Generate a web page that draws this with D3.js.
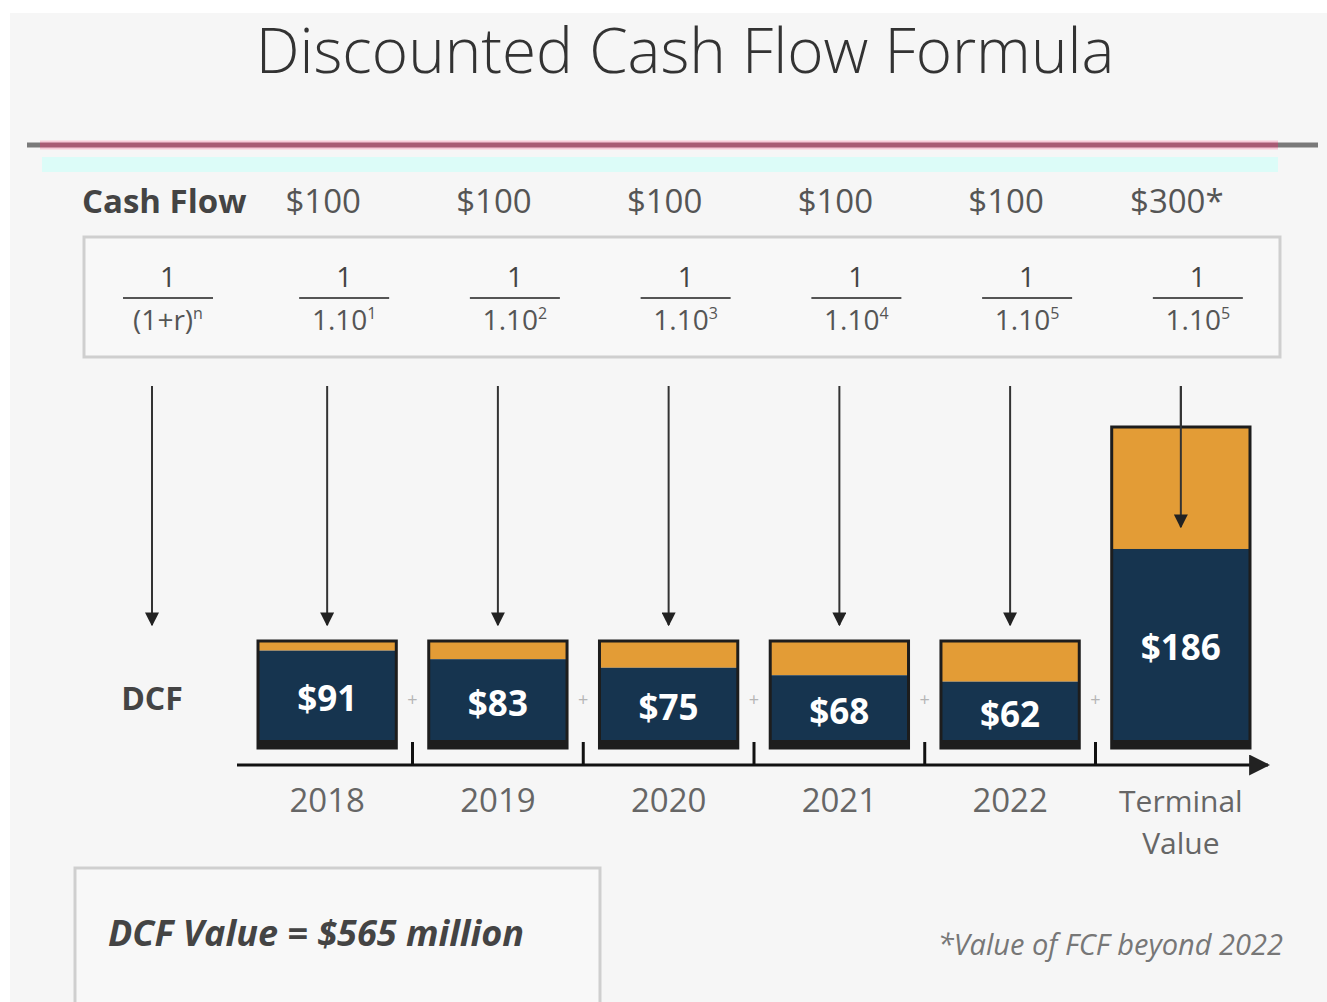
<!DOCTYPE html>
<html>
<head>
<meta charset="utf-8">
<script src="https://cdn.jsdelivr.net/npm/d3@7"></script>
<style>
  body { margin: 0; background: #fff; }
  svg { display: block; font-family: 'Open Sans', sans-serif; }
</style>
</head>
<body>
<div id="chart"></div>
<script>
const categories = ['2018', '2019', '2020', '2021', '2022', 'Terminal Value'];
const cashFlows = [100, 100, 100, 100, 100, 300];
const presentValues = [91, 83, 75, 68, 62, 186];
const cashFlowLabels = ['$100', '$100', '$100', '$100', '$100', '$300*'];
const exponents = ['1', '2', '3', '4', '5', '5'];

const width = 1327;
const height = 1002;
const navy = '#16344f';
const orange = '#e39c36';

const svg = d3.select('#chart')
    .append('svg')
    .attr('width', width)
    .attr('height', height);

const defs = svg.append('defs');
defs.append('marker')
    .attr('id', 'head')
    .attr('viewBox', '0 0 10 10')
    .attr('refX', 9)
    .attr('refY', 5)
    .attr('markerWidth', 7)
    .attr('markerHeight', 7)
    .attr('markerUnits', 'strokeWidth')
    .attr('orient', 'auto')
    .append('path')
    .attr('d', 'M0,0 L10,5 L0,10 Z')
    .attr('fill', '#222');

// panel
svg.append('rect')
    .attr('x', 10).attr('y', 13)
    .attr('width', width - 10).attr('height', height - 13)
    .attr('fill', '#f6f6f6');

svg.append('text')
    .attr('x', 685).attr('y', 73)
    .attr('text-anchor', 'middle')
    .attr('font-size', 62)
    .attr('font-weight', 300)
    .attr('fill', '#333')
    .text('Discounted Cash Flow Formula');

// rule under the title
svg.append('line')
    .attr('x1', 27).attr('x2', 1318).attr('y1', 145).attr('y2', 145)
    .attr('stroke', '#7a7a7a').attr('stroke-width', 5);
svg.append('line')
    .attr('x1', 40).attr('x2', 1278).attr('y1', 145).attr('y2', 145)
    .attr('stroke', '#f7c9d8').attr('stroke-width', 9);
svg.append('line')
    .attr('x1', 40).attr('x2', 1278).attr('y1', 145).attr('y2', 145)
    .attr('stroke', '#a85a74').attr('stroke-width', 5);
svg.append('rect')
    .attr('x', 42).attr('y', 157).attr('width', 1236).attr('height', 15)
    .attr('fill', '#dcfcf8');

const x = d3.scaleBand()
    .domain(categories)
    .range([258, 1250])
    .paddingInner(0.19)
    .paddingOuter(0);

const y = d3.scaleLinear()
    .domain([0, 300])
    .range([748, 427]);

const cx = (d) => x(d) + x.bandwidth() / 2;

// cash flow row
svg.append('text')
    .attr('x', 82).attr('y', 213)
    .attr('font-size', 33)
    .attr('font-weight', 700)
    .attr('fill', '#444')
    .text('Cash Flow');

svg.selectAll('.cf')
    .data(categories)
    .enter()
        .append('text')
        .attr('class', 'cf')
        .attr('x', (d) => cx(d) - 4)
        .attr('y', 213)
        .attr('text-anchor', 'middle')
        .attr('font-size', 33)
        .attr('fill', '#555')
        .text((d, i) => cashFlowLabels[i]);

// discount factor box
svg.append('rect')
    .attr('x', 84).attr('y', 237).attr('width', 1196).attr('height', 120)
    .attr('fill', '#f8f8f8')
    .attr('stroke', '#cfcfcf')
    .attr('stroke-width', 3);

const fracs = [{ x: 168, den: '(1+r)', sup: 'n' }].concat(
    categories.map((d, i) => ({ x: cx(d) + 17, den: '1.10', sup: exponents[i] }))
);

const frac = svg.selectAll('.frac')
    .data(fracs)
    .enter()
        .append('g')
        .attr('class', 'frac')
        .attr('transform', (d) => `translate(${d.x}, 0)`);

frac.append('text')
    .attr('y', 287)
    .attr('text-anchor', 'middle')
    .attr('font-size', 28)
    .attr('fill', '#444')
    .text('1');
frac.append('line')
    .attr('x1', -45).attr('x2', 45).attr('y1', 298).attr('y2', 298)
    .attr('stroke', '#555').attr('stroke-width', 2);
const den = frac.append('text')
    .attr('y', 330)
    .attr('text-anchor', 'middle')
    .attr('font-size', 28)
    .attr('fill', '#555');
den.append('tspan').text((d) => d.den);
den.append('tspan')
    .attr('dy', -11)
    .attr('font-size', 16)
    .text((d) => d.sup);

// arrows down to the bars
const arrows = [{ x: 152, y2: 625 }].concat(
    categories.map((d, i) => ({ x: cx(d), y2: i === categories.length - 1 ? 527 : 625 }))
);
svg.selectAll('.arrow')
    .data(arrows)
    .enter()
        .append('line')
        .attr('class', 'arrow')
        .attr('x1', (d) => d.x).attr('x2', (d) => d.x)
        .attr('y1', 386).attr('y2', (d) => d.y2)
        .attr('stroke', '#333')
        .attr('stroke-width', 2)
        .attr('marker-end', 'url(#head)');

svg.append('text')
    .attr('x', 152).attr('y', 710)
    .attr('text-anchor', 'middle')
    .attr('font-size', 32)
    .attr('font-weight', 700)
    .attr('fill', '#444')
    .text('DCF');

// stacked bars: present value (navy) + discount (orange)
const bars = svg.selectAll('.bar')
    .data(categories)
    .enter()
        .append('g')
        .attr('class', 'bar');

bars.append('rect')
    .attr('x', (d) => x(d))
    .attr('y', (d, i) => y(cashFlows[i]))
    .attr('width', x.bandwidth())
    .attr('height', (d, i) => y(presentValues[i]) - y(cashFlows[i]))
    .attr('fill', orange);

bars.append('rect')
    .attr('x', (d) => x(d))
    .attr('y', (d, i) => y(presentValues[i]))
    .attr('width', x.bandwidth())
    .attr('height', (d, i) => y(0) - y(presentValues[i]))
    .attr('fill', navy);

bars.append('rect')
    .attr('x', (d) => x(d))
    .attr('y', (d, i) => y(cashFlows[i]))
    .attr('width', x.bandwidth())
    .attr('height', (d, i) => y(0) - y(cashFlows[i]))
    .attr('fill', 'none')
    .attr('stroke', '#1d1d1d')
    .attr('stroke-width', 3);

bars.append('rect')
    .attr('x', (d) => x(d))
    .attr('y', y(0) - 8)
    .attr('width', x.bandwidth())
    .attr('height', 8)
    .attr('fill', '#1d1d1d');

bars.append('text')
    .attr('x', (d) => cx(d))
    .attr('y', (d, i) => (y(presentValues[i]) + y(0)) / 2 + 12)
    .attr('text-anchor', 'middle')
    .attr('font-size', 35)
    .attr('font-weight', 700)
    .attr('fill', '#fff')
    .text((d, i) => '$' + presentValues[i]);

// terminal arrow drawn again over the bar
svg.append('line')
    .attr('x1', cx(categories[5])).attr('x2', cx(categories[5]))
    .attr('y1', 386).attr('y2', 527)
    .attr('stroke', '#333')
    .attr('stroke-width', 2)
    .attr('marker-end', 'url(#head)');

// plus signs between bars
const gaps = categories.slice(1).map((d) => x(d) - x.step() * x.paddingInner() / 2);
svg.selectAll('.plus')
    .data(gaps)
    .enter()
        .append('text')
        .attr('class', 'plus')
        .attr('x', (d) => d)
        .attr('y', 706)
        .attr('text-anchor', 'middle')
        .attr('font-size', 18)
        .attr('fill', '#b5b5b5')
        .text('+');

// axis
const axis = d3.axisBottom(x)
    .tickSize(0)
    .tickPadding(0);

const axisG = svg.append('g')
    .attr('transform', 'translate(0, 765)')
    .call(axis);
axisG.select('.domain').remove();
axisG.selectAll('.tick text')
    .attr('font-family', 'Open Sans, sans-serif')
    .attr('font-size', 33)
    .attr('fill', '#666')
    .attr('y', 47)
    .attr('dy', 0)
    .each(function (d) {
        const t = d3.select(this);
        if (d === 'Terminal Value') {
            t.text(null).attr('font-size', 30);
            t.append('tspan').attr('x', 0).text('Terminal');
            t.append('tspan').attr('x', 0).attr('dy', 42).text('Value');
        }
    });

svg.append('line')
    .attr('x1', 237).attr('x2', 1268).attr('y1', 765).attr('y2', 765)
    .attr('stroke', '#111')
    .attr('stroke-width', 3)
    .attr('marker-end', 'url(#head)');

svg.selectAll('.sep')
    .data(gaps)
    .enter()
        .append('line')
        .attr('class', 'sep')
        .attr('x1', (d) => d).attr('x2', (d) => d)
        .attr('y1', 742).attr('y2', 765)
        .attr('stroke', '#111')
        .attr('stroke-width', 3);

// total box
svg.append('rect')
    .attr('x', 75).attr('y', 868).attr('width', 525).attr('height', 140)
    .attr('fill', '#f8f8f8')
    .attr('stroke', '#cfcfcf')
    .attr('stroke-width', 3);

svg.append('text')
    .attr('x', 108).attr('y', 946)
    .attr('font-size', 36)
    .attr('font-weight', 700)
    .attr('font-style', 'italic')
    .attr('fill', '#444')
    .text('DCF Value = $' + d3.sum(presentValues) + ' million');

svg.append('text')
    .attr('x', 1283).attr('y', 955)
    .attr('text-anchor', 'end')
    .attr('font-size', 29)
    .attr('font-style', 'italic')
    .attr('fill', '#777')
    .text('*Value of FCF beyond 2022');
</script>
</body>
</html>
